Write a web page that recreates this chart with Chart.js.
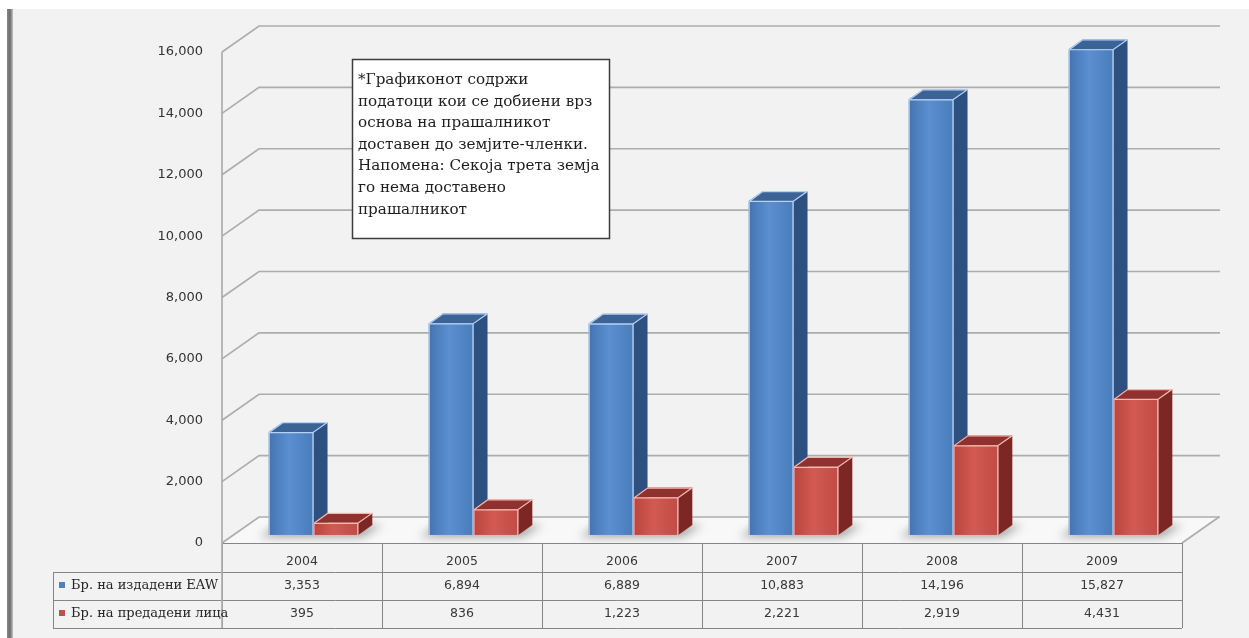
<!DOCTYPE html>
<html>
<head>
<meta charset="utf-8">
<script src="https://cdn.jsdelivr.net/npm/chart.js@4.4.1/dist/chart.umd.min.js"></script>
<style>
  html, body { margin: 0; padding: 0; background: #ffffff; overflow: hidden; }
  #wrap { width: 1249px; height: 638px; position: relative; }
  canvas { display: block; }
</style>
</head>
<body>
<div id="wrap"><canvas id="chart" width="1249" height="638"></canvas></div>
<script>
// Years shown on the category axis / table header
const years = ['2004', '2005', '2006', '2007', '2008', '2009'];
// Number of European Arrest Warrants issued
const issuedEAW = [3353, 6894, 6889, 10883, 14196, 15827];
// Number of persons surrendered
const surrendered = [395, 836, 1223, 2221, 2919, 4431];
// Series names used in the data table legend
const seriesNames = ['Бр. на издадени EAW', 'Бр. на предадени лица'];
// Value axis range and step
const yMin = 0, yMax = 16000, yStep = 2000;
// Note box text
const noteLines = [
  '*Графиконот содржи',
  'податоци кои се добиени врз',
  'основа на прашалникот',
  'доставен до земјите-членки.',
  'Напомена: Секоја трета земја',
  'го нема доставено',
  'прашалникот'
];

// 3D look: full depth of the floor and where the bars sit inside it
const DEPTH_X = 37, DEPTH_Y = -26;
const BAR_START = 0.31, BAR_DEPTH = 0.38;

const palette = [
  { front: ['#4573b0', '#5b8fd1', '#4a7cba'], side: '#2d5081', top: '#3c6396', edge: 'rgba(185,215,250,0.95)' },
  { front: ['#b9443f', '#d35a51', '#c04c46'], side: '#7d2725', top: '#8f322f', edge: 'rgba(250,190,180,0.95)' }
];

const fmt = v => v.toLocaleString('en-US');

const scene = {
  id: 'scene',
  beforeDraw(chart) {
    const ctx = chart.ctx;
    ctx.save();
    ctx.fillStyle = '#ffffff';
    ctx.fillRect(0, 0, chart.width, chart.height);
    ctx.fillStyle = '#f2f2f2';
    ctx.fillRect(12, 9, chart.width - 12, chart.height - 9);
    // left frame edge
    const g = ctx.createLinearGradient(7, 0, 13, 0);
    g.addColorStop(0, '#8a8a8a');
    g.addColorStop(0.5, '#6c6c6c');
    g.addColorStop(1, '#c4c4c4');
    ctx.fillStyle = g;
    ctx.fillRect(7, 9, 6, chart.height - 9);
    ctx.restore();
  },
  beforeDatasetsDraw(chart) {
    const ctx = chart.ctx, y = chart.scales.y, area = chart.chartArea;
    const y0 = y.getPixelForValue(0);
    ctx.save();
    // floor
    ctx.beginPath();
    ctx.moveTo(area.left, y0);
    ctx.lineTo(area.right, y0);
    ctx.lineTo(area.right + DEPTH_X, y0 + DEPTH_Y);
    ctx.lineTo(area.left + DEPTH_X, y0 + DEPTH_Y);
    ctx.closePath();
    ctx.fillStyle = '#f8f8f8';
    ctx.fill();
    // floor shadows under each bar pair
    ctx.save();
    ctx.clip();
    ctx.filter = 'blur(5px)';
    ctx.fillStyle = 'rgba(60,60,60,0.45)';
    const m0 = chart.getDatasetMeta(0), m1 = chart.getDatasetMeta(1);
    m0.data.forEach((el, i) => {
      const a = el.getProps(['x', 'width'], true);
      const b = m1.data[i].getProps(['x', 'width'], true);
      const l = a.x - a.width / 2, r = b.x + b.width / 2;
      const sx = BAR_START * DEPTH_X, sy = BAR_START * DEPTH_Y;
      const ex = (BAR_START + BAR_DEPTH) * DEPTH_X, ey = (BAR_START + BAR_DEPTH) * DEPTH_Y;
      ctx.beginPath();
      ctx.moveTo(l + sx - 9, y0 + sy + 2);
      ctx.lineTo(r + sx + 4, y0 + sy + 2);
      ctx.lineTo(r + ex + 10, y0 + ey);
      ctx.lineTo(l + ex - 4, y0 + ey);
      ctx.closePath();
      ctx.fill();
    });
    ctx.restore();

    // side wall diagonals and back wall grid lines
    ctx.strokeStyle = '#adadad';
    ctx.lineWidth = 1.7;
    y.ticks.forEach(t => {
      const py = y.getPixelForValue(t.value);
      ctx.beginPath();
      ctx.moveTo(area.left, py);
      ctx.lineTo(area.left + DEPTH_X, py + DEPTH_Y);
      ctx.lineTo(area.right + DEPTH_X + 1, py + DEPTH_Y);
      ctx.stroke();
    });
    // right floor edge
    ctx.beginPath();
    ctx.moveTo(area.right, y0);
    ctx.lineTo(area.right + DEPTH_X, y0 + DEPTH_Y);
    ctx.stroke();
    // vertical axis line
    ctx.beginPath();
    ctx.moveTo(area.left, area.top);
    ctx.lineTo(area.left, y0);
    ctx.stroke();
    ctx.restore();
  },
  beforeDatasetDraw() {
    return false;
  },
  afterDatasetsDraw(chart) {
    const ctx = chart.ctx;
    const sx = BAR_START * DEPTH_X, sy = BAR_START * DEPTH_Y;
    const dx = BAR_DEPTH * DEPTH_X, dy = BAR_DEPTH * DEPTH_Y;
    const metas = [chart.getDatasetMeta(0), chart.getDatasetMeta(1)];
    ctx.save();
    years.forEach((_, i) => {
      metas.forEach((meta, d) => {
        const p = meta.data[i].getProps(['x', 'y', 'base', 'width'], true);
        const c = palette[d];
        const L = p.x - p.width / 2 + sx, R = p.x + p.width / 2 + sx;
        const T = p.y + sy, B = p.base + sy;
        // side face
        ctx.fillStyle = c.side;
        ctx.beginPath();
        ctx.moveTo(R, T); ctx.lineTo(R + dx, T + dy); ctx.lineTo(R + dx, B + dy); ctx.lineTo(R, B);
        ctx.closePath(); ctx.fill();
        // top face
        ctx.fillStyle = c.top;
        ctx.beginPath();
        ctx.moveTo(L, T); ctx.lineTo(L + dx, T + dy); ctx.lineTo(R + dx, T + dy); ctx.lineTo(R, T);
        ctx.closePath(); ctx.fill();
        // front face
        const fg = ctx.createLinearGradient(L, 0, R, 0);
        fg.addColorStop(0, c.front[0]);
        fg.addColorStop(0.45, c.front[1]);
        fg.addColorStop(1, c.front[2]);
        ctx.fillStyle = fg;
        ctx.fillRect(L, T, R - L, B - T);
        // light edges
        ctx.strokeStyle = c.edge;
        ctx.lineWidth = 1.2;
        ctx.beginPath();
        ctx.moveTo(L + 0.5, B); ctx.lineTo(L + 0.5, T + 0.5); ctx.lineTo(R - 0.5, T + 0.5); ctx.lineTo(R - 0.5, B);
        ctx.moveTo(L + 0.5, T + 0.5); ctx.lineTo(L + dx, T + dy + 0.5); ctx.lineTo(R + dx - 0.5, T + dy + 0.5);
        ctx.lineTo(R - 0.5, T + 0.5);
        ctx.stroke();
      });
    });
    ctx.restore();
  },
  afterDraw(chart) {
    const ctx = chart.ctx, area = chart.chartArea, y = chart.scales.y;
    const y0 = y.getPixelForValue(0);
    const n = years.length, cw = (area.right - area.left) / n;
    const rowTop = [y0, y0 + 29, y0 + 57, y0 + 85];
    const tableLeft = 53;
    ctx.save();
    ctx.strokeStyle = '#858585';
    ctx.lineWidth = 1;
    const hl = (x1, x2, yy) => { ctx.beginPath(); ctx.moveTo(x1, Math.round(yy) + 0.5); ctx.lineTo(x2, Math.round(yy) + 0.5); ctx.stroke(); };
    const vl = (xx, y1, y2) => { ctx.beginPath(); ctx.moveTo(Math.round(xx) + 0.5, y1); ctx.lineTo(Math.round(xx) + 0.5, y2); ctx.stroke(); };
    hl(area.left, area.right, rowTop[0]);
    hl(tableLeft, area.right, rowTop[1]);
    hl(tableLeft, area.right, rowTop[2]);
    hl(tableLeft, area.right, rowTop[3]);
    vl(tableLeft, rowTop[1], rowTop[3]);
    for (let i = 0; i <= n; i++) vl(area.left + i * cw, rowTop[0], rowTop[3]);
    // axis line continues through the table
    ctx.strokeStyle = '#adadad';
    ctx.lineWidth = 1.7;
    ctx.beginPath(); ctx.moveTo(area.left, y0); ctx.lineTo(area.left, rowTop[3]); ctx.stroke();

    // header and values
    ctx.fillStyle = '#383838';
    ctx.textAlign = 'center';
    ctx.textBaseline = 'middle';
    ctx.font = '12.5px "DejaVu Sans"';
    const x = chart.scales.x;
    years.forEach((yr, i) => {
      const cx = x.getPixelForValue(i);
      ctx.fillText(yr, cx, rowTop[0] + 19);
      ctx.fillText(fmt(issuedEAW[i]), cx, rowTop[1] + 14);
      ctx.fillText(fmt(surrendered[i]), cx, rowTop[2] + 14);
    });

    // legend keys and series names
    ctx.textAlign = 'left';
    ctx.font = '13px "DejaVu Serif"';
    const keyCol = ['#4f81bd', '#c0504d'];
    seriesNames.forEach((s, d) => {
      const cy = rowTop[1 + d] + 14;
      ctx.fillStyle = keyCol[d];
      ctx.fillRect(59, cy - 4, 6, 6);
      ctx.fillStyle = '#262626';
      ctx.fillText(s, 71, cy);
    });

    // note box
    const bx = 352, by = 59, bw = 257, bh = 179;
    ctx.fillStyle = '#ffffff';
    ctx.fillRect(bx, by, bw, bh);
    ctx.strokeStyle = '#3c3c3c';
    ctx.lineWidth = 1.5;
    ctx.strokeRect(bx + 0.5, by + 0.5, bw, bh);
    ctx.fillStyle = '#1e1e1e';
    ctx.font = '15.2px "DejaVu Serif"';
    ctx.textBaseline = 'middle';
    noteLines.forEach((ln, k) => ctx.fillText(ln, bx + 6, by + 21 + k * 21.6));
    ctx.restore();
  }
};

new Chart(document.getElementById('chart'), {
  type: 'bar',
  data: {
    labels: years,
    datasets: [
      { label: seriesNames[0], data: issuedEAW, backgroundColor: '#4f81bd' },
      { label: seriesNames[1], data: surrendered, backgroundColor: '#c0504d' }
    ]
  },
  options: {
    responsive: false,
    animation: false,
    devicePixelRatio: 1,
    locale: 'en-US',
    layout: { padding: { left: 0, right: 67, top: 52, bottom: 95 } },
    datasets: { bar: { categoryPercentage: 0.56, barPercentage: 1 } },
    plugins: { legend: { display: false }, tooltip: { enabled: false } },
    scales: {
      x: { display: false, offset: true },
      y: {
        min: yMin, max: yMax,
        ticks: { stepSize: yStep, padding: 19, color: '#333333', font: { family: 'DejaVu Sans', size: 13 } },
        grid: { display: false, drawTicks: false },
        border: { display: false },
        afterFit(s) { s.width = 222; }
      }
    }
  },
  plugins: [scene]
});
</script>
</body>
</html>
